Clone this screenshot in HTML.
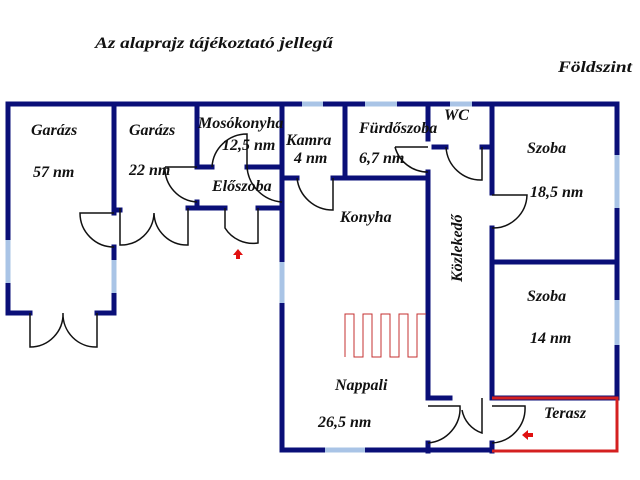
<!DOCTYPE html>
<html><head><meta charset="utf-8"><style>
html,body{margin:0;padding:0;background:#fff;}
svg{display:block;}
text{font-family:"Liberation Serif",serif;font-style:italic;font-weight:bold;fill:#111;}
</style></head><body>
<svg width="640" height="480" viewBox="0 0 640 480" xmlns="http://www.w3.org/2000/svg">
<text x="95" y="48" font-size="16" textLength="238" lengthAdjust="spacingAndGlyphs">Az alaprajz tájékoztató jellegű</text>
<text x="558" y="72" font-size="16" textLength="74" lengthAdjust="spacingAndGlyphs">Földszint</text>

<g stroke="#0a0f78" stroke-width="5" fill="none" stroke-linecap="square">
<path d="M8 104 H302 M323 104 H365 M397 104 H450 M472 104 H617"/>
<path d="M8 104 V240 M8 283 V313 H30 M97 313 H114 V293 M114 260 V247 M114 213 V104"/>
<path d="M114 210 H120 M188 208 H197 V202 M197 208 H225 M258 208 H282 V262 M282 303 V450 H325 M365 450 H492"/>
<path d="M197 104 V167 H212 M247 167 H282 M282 104 V205"/>
<path d="M282 178 H297 M333 178 H345 V104"/>
<path d="M345 178 H428 M428 104 V139 M428 172 V398 H450"/>
<path d="M434 147 H446 M482 147 H492"/>
<path d="M492 104 V193 M492 228 V398 H500 M492 262 H617 M617 104 V155 M617 208 V300 M617 345 V398 H492"/>
<path d="M428 443 V451 M492 443 V451"/>
</g>
<g stroke="#a9c4e6" stroke-width="5" fill="none">
<path d="M302 104 H323 M365 104 H397 M450 104 H472 M8 240 V283 M114 260 V293 M282 262 V303 M325 450 H365 M617 155 V208 M617 300 V345"/>
</g>
<path d="M492 398 H617 V451 H492" stroke="#d42020" stroke-width="3" fill="none"/>

<g stroke="#111" stroke-width="1.5" fill="none">
<path d="M30 313 V347 A33 33 0 0 0 63 313 A33 33 0 0 0 97 347 V313"/>
<path d="M114 213 H80 A34 34 0 0 0 114 247"/>
<path d="M120 208 V245 A33 33 0 0 0 154 213 A33 33 0 0 0 188 245 V208"/>
<path d="M165 167 H197 M165 167 A34 34 0 0 0 197 202"/>
<path d="M225 208 V228 A33 33 0 0 0 258 243 V208"/>
<path d="M212 167 A35 35 0 0 1 247 134 V167"/>
<path d="M247 167 A38 38 0 0 0 282 202"/>
<path d="M297 178 A36 36 0 0 0 333 210 V178"/>
<path d="M395 147 H428 M395 147 A34 34 0 0 0 428 172"/>
<path d="M446 147 A35 35 0 0 0 482 180 V147"/>
<path d="M492 195 H527 A34 34 0 0 1 492 228"/>
<path d="M428 406 H460 A35 35 0 0 1 428 443"/>
<path d="M482 398 V433 A30 30 0 0 1 462 410"/>
<path d="M492 406 H525 A35 35 0 0 1 492 443"/>
</g>
<path d="M345 357 V314 H354 V357 H363 V314 H372 V357 H381 V314 H390 V357 H399 V314 H408 V357 H417 V314 H426" stroke="#c43030" stroke-width="1" fill="none"/>
<path d="M238 249 L233 255 H236 V259 H240 V255 H243 Z" fill="#e01010"/>
<path d="M522 435 L528 430 V433 H533 V437 H528 V440 Z" fill="#e01010"/>

<g font-size="16">
<text x="31" y="135">Garázs</text>
<text x="33" y="177">57 nm</text>
<text x="129" y="135">Garázs</text>
<text x="129" y="175">22 nm</text>
<text x="198" y="128">Mosókonyha</text>
<text x="222" y="150">12,5 nm</text>
<text x="212" y="191">Előszoba</text>
<text x="286" y="145">Kamra</text>
<text x="294" y="163">4 nm</text>
<text x="359" y="133">Fürdőszoba</text>
<text x="359" y="163">6,7 nm</text>
<text x="444" y="120">WC</text>
<text x="527" y="153">Szoba</text>
<text x="530" y="197">18,5 nm</text>
<text x="340" y="222">Konyha</text>
<text x="527" y="301">Szoba</text>
<text x="530" y="343">14 nm</text>
<text x="335" y="390">Nappali</text>
<text x="318" y="427">26,5 nm</text>
<text x="544" y="418">Terasz</text>
<text transform="translate(462,282) rotate(-90)">Közlekedő</text>
</g>
</svg>
</body></html>
